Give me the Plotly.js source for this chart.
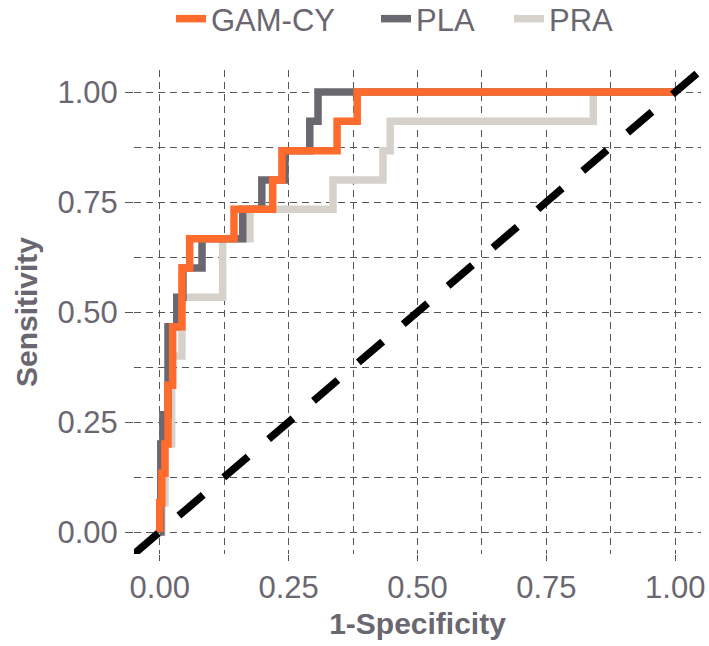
<!DOCTYPE html>
<html><head><meta charset="utf-8">
<script src="https://cdn.plot.ly/plotly-3.0.1.min.js"></script>
<style>html,body{margin:0;padding:0;background:#fff}</style>
</head><body><div id="chart" style="width:709px;height:646px"></div>
<script>
// ROC points (false positive rate, true positive rate)
const gamFpr = [0, 0, 0.004, 0.010, 0.016, 0.025, 0.043, 0.058, 0.144, 0.219, 0.237, 0.344, 0.383, 1.0];
const gamTpr = [0, 0.0667, 0.1333, 0.2, 0.3333, 0.4667, 0.6, 0.6667, 0.7333, 0.8, 0.8667, 0.9333, 1, 1];

const plaFpr = [0, 0.002, 0.006, 0.016, 0.033, 0.045, 0.082, 0.161, 0.198, 0.243, 0.291, 0.307, 1.0];
const plaTpr = [0, 0.2, 0.2667, 0.4667, 0.5333, 0.6, 0.6667, 0.7333, 0.8, 0.8667, 0.9333, 1, 1];

const praFpr = [0, 0.004, 0.010, 0.023, 0.043, 0.122, 0.175, 0.336, 0.433, 0.447, 0.841, 1.0];
const praTpr = [0, 0.0667, 0.2, 0.4, 0.5333, 0.6667, 0.7333, 0.8, 0.8667, 0.9333, 1, 1];

// chance (identity) line
const chanceX = [-0.05, 1.05];
const chanceY = [-0.05, 1.05];

const seriesNames = ['GAM-CY', 'PLA', 'PRA'];
const tickVals = [0, 0.25, 0.5, 0.75, 1];
const tickText = ['0.00', '0.25', '0.50', '0.75', '1.00'];
const minorVals = [0.125, 0.375, 0.625, 0.875];

const textColor = '#6a6771';
const gridColor = '#555555';
const gridDash = '7px,5px';

const traces = [
  {x: praFpr, y: praTpr, name: seriesNames[2], legend: 'legend3', mode: 'lines', line: {shape: 'hv', color: '#d6d2cb', width: 7.5}},
  {x: plaFpr, y: plaTpr, name: seriesNames[1], legend: 'legend2', mode: 'lines', line: {shape: 'hv', color: '#6a6771', width: 7.5}},
  {x: gamFpr, y: gamTpr, name: seriesNames[0], legend: 'legend', mode: 'lines', line: {shape: 'hv', color: '#ff6b2c', width: 7.5}},
  {x: chanceX, y: chanceY, mode: 'lines', showlegend: false, line: {color: '#000000', width: 7.5, dash: '32px,27px'}}
];

function axis(title, standoff, ticklen, labelStandoff) {
  return {
    range: [-0.05, 1.05],
    tickvals: tickVals, ticktext: tickText,
    showgrid: true, gridcolor: gridColor, gridwidth: 1, griddash: gridDash,
    minor: {tickvals: minorVals, showgrid: true, gridcolor: gridColor, gridwidth: 1, griddash: gridDash},
    zeroline: false, showline: false,
    ticks: 'outside', ticklen: ticklen, tickwidth: 1, tickcolor: gridColor,
    ticklabelstandoff: labelStandoff,
    tickfont: {size: 31, color: textColor},
    title: {text: '<b>' + title + '</b>', font: {size: 30, color: textColor}, standoff: standoff},
    fixedrange: true
  };
}

function legendAt(px) {
  return {orientation: 'h', x: (px - 134) / 567, xanchor: 'left', y: (554 - 19) / 484, yanchor: 'middle',
          font: {size: 31, color: textColor}, bgcolor: 'rgba(0,0,0,0)'};
}

const layout = {
  width: 709, height: 646,
  margin: {l: 134, r: 8, t: 70, b: 92, autoexpand: false},
  paper_bgcolor: '#ffffff', plot_bgcolor: '#ffffff',
  font: {family: 'Liberation Sans, Arial, sans-serif', color: textColor, size: 30},
  showlegend: true,
  legend: legendAt(171),
  legend2: legendAt(376),
  legend3: legendAt(509),
  xaxis: axis('1-Specificity', 8, 6, 0),
  yaxis: axis('Sensitivity', 10, 8, 1)
};

Plotly.newPlot('chart', traces, layout, {displayModeBar: false, staticPlot: true});
</script>
</body></html>
